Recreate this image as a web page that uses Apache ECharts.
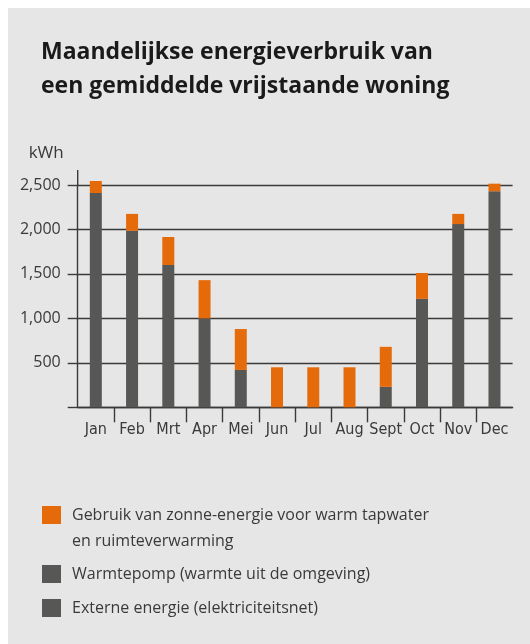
<!DOCTYPE html>
<html>
<head>
<meta charset="utf-8">
<script src="https://cdn.jsdelivr.net/npm/echarts@6/dist/echarts.min.js"></script>
<style>
  html, body { margin: 0; padding: 0; background: #ffffff; }
  #panel { position: absolute; left: 8px; top: 8px; width: 522px; height: 636px; background: #e6e6e6; }
  #chart { position: absolute; left: 0; top: 0; width: 530px; height: 644px; }
</style>
</head>
<body>
<div id="panel"></div>
<div id="chart"></div>
<script>
// Monthly energy use of an average detached house (kWh)
const months = ['Jan', 'Feb', 'Mrt', 'Apr', 'Mei', 'Jun', 'Jul', 'Aug', 'Sept', 'Oct', 'Nov', 'Dec'];
// heat pump + grid electricity (drawn as one grey block)
const heatPumpAndGrid = [2410, 1985, 1600, 1000, 420, 0, 0, 0, 230, 1220, 2060, 2430];
// solar energy for hot tap water and space heating (stacked on top)
const solar = [135, 190, 315, 430, 460, 450, 450, 450, 450, 290, 115, 85];
const yTicks = [500, 1000, 1500, 2000, 2500];
// separators between month columns
const monthSeparators = [1, 2, 3, 4, 5, 6, 7, 8, 9, 10, 11];

const title1 = 'Maandelijkse energieverbruik van';
const title2 = 'een gemiddelde vrijstaande woning';
const legendSolar = 'Gebruik van zonne-energie voor warm tapwater';
const legendSolar2 = 'en ruimteverwarming';
const legendPump = 'Warmtepomp (warmte uit de omgeving)';
const legendGrid = 'Externe energie (elektriciteitsnet)';

const ORANGE = '#e56a0a';
const GREY = '#575756';
const INK = '#1a1a1a';
const AXIS = '#3a3a3a';
const LABEL = '#3a3a3a';
const NARROW = '"DejaVu Sans Condensed", "Liberation Sans Narrow", "Open Sans", sans-serif';

const chart = echarts.init(document.getElementById('chart'), null, { renderer: 'canvas' });

const legendText = { fontFamily: 'Open Sans', fontSize: 16, color: LABEL };
function legendBlock(name, top) {
  return {
    left: 42, top: top, orient: 'vertical', padding: 0,
    itemWidth: 19, itemHeight: 18, itemGap: 0,
    icon: 'rect', data: [name], selectedMode: false,
    textStyle: Object.assign({ padding: [0, 0, 0, 6] }, legendText)
  };
}

chart.setOption({
  animation: false,
  backgroundColor: 'transparent',
  title: {
    text: title1 + '\n' + title2,
    left: 41, top: 35, padding: 0,
    textStyle: { fontFamily: 'Open Sans', fontWeight: 700, fontSize: 23, lineHeight: 34, color: INK }
  },
  grid: { left: 77.7, right: 17.4, top: 185, bottom: 236.7, containLabel: false },
  legend: [
    legendBlock(legendSolar, 506),
    legendBlock(legendPump, 565),
    legendBlock(legendGrid, 599)
  ],
  graphic: [{
    type: 'text', left: 72, top: 533,
    style: { text: legendSolar2, font: '16px "Open Sans"', fill: LABEL }
  }],
  xAxis: [
    {
      type: 'category',
      data: months,
      boundaryGap: true,
      axisLine: { lineStyle: { color: AXIS, width: 1.4 } },
      axisTick: { show: false },
      axisLabel: { fontFamily: NARROW, fontSize: 16, color: LABEL, margin: 15, interval: 0 },
      splitLine: { show: false }
    },
    {
      // column separators below the baseline
      type: 'value', position: 'bottom',
      min: 0, max: months.length,
      axisLine: { show: false },
      axisLabel: { show: false },
      splitLine: { show: false },
      axisTick: {
        show: true, length: 15, inside: false,
        customValues: monthSeparators,
        lineStyle: { color: AXIS, width: 1.4 }
      }
    }
  ],
  yAxis: {
    type: 'value',
    min: 0, max: 2500, interval: 500,
    name: 'kWh',
    nameLocation: 'end',
    nameGap: 23,
    nameTextStyle: { fontFamily: 'Open Sans', fontSize: 17, color: LABEL, align: 'right', padding: [0, 14, 0, 0] },
    axisLine: {
      show: true,
      lineStyle: { color: AXIS, width: 1.4 },
      symbol: ['none', 'rect'], symbolSize: [1.4, 15], symbolOffset: [0, 7.5]
    },
    axisTick: { show: true, inside: false, length: 10, lineStyle: { color: AXIS, width: 1.4 } },
    axisLabel: {
      fontFamily: 'Open Sans', fontSize: 16, color: LABEL, margin: 17,
      formatter: function (v) { return v === 0 ? '' : v.toLocaleString('en-US'); }
    },
    splitLine: { show: true, lineStyle: { color: AXIS, width: 1.4 } }
  },
  series: [
    {
      name: legendPump, type: 'bar', stack: 'total', barWidth: 12, clip: false,
      itemStyle: { color: GREY }, data: heatPumpAndGrid, z: 3
    },
    {
      name: legendSolar, type: 'bar', stack: 'total', barWidth: 12, clip: false,
      itemStyle: { color: ORANGE }, data: solar, z: 3
    },
    {
      // grid electricity shares the grey block above; listed for the legend
      name: legendGrid, type: 'bar', stack: 'total', barWidth: 12, clip: false,
      itemStyle: { color: GREY }, data: []
    }
  ]
});
</script>
</body>
</html>
